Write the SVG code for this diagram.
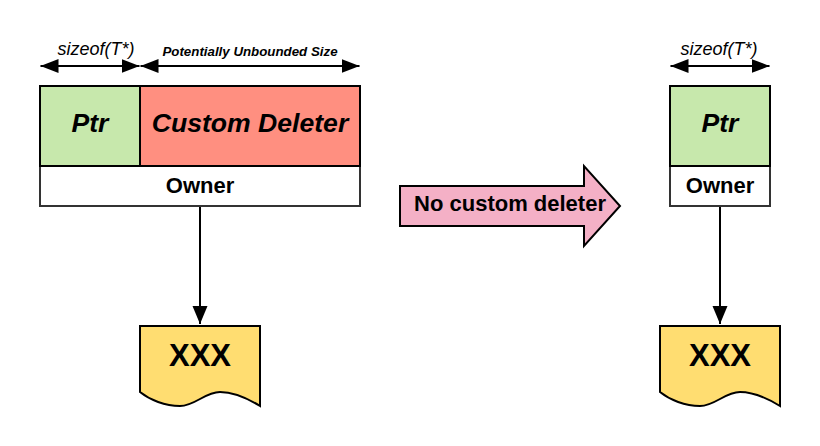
<svg xmlns="http://www.w3.org/2000/svg" width="820" height="446" viewBox="0 0 820 446">
<style>
text{font-family:"Liberation Sans",Arial,sans-serif;fill:#000;text-anchor:middle}
.box{stroke:#000;stroke-width:2}
.owner{fill:#fff;stroke:#333;stroke-width:2}
.ptr{fill:#c7e8ac}
.del{fill:#ff8f80}
.doc{fill:#ffdd71;stroke:#000;stroke-width:2}
.line{fill:none;stroke:#000;stroke-width:2}
.big{font-size:26.6px;font-weight:bold;font-style:italic}
.own{font-size:22px;font-weight:bold}
.sz{font-size:18px;font-style:italic}
.xxx{font-size:31px;font-weight:bold}
</style>
<defs>
<marker id="a" markerUnits="userSpaceOnUse" markerWidth="20" markerHeight="16" refX="18" refY="8" orient="auto-start-reverse"><path d="M0 1 L18 8 L0 15 Z" fill="#000"/></marker>
<marker id="b" markerUnits="userSpaceOnUse" markerWidth="16" markerHeight="20" refX="18" refY="6" orient="auto" overflow="visible"><path d="M0 -1.5 L18 6 L0 13.5 Z" fill="#000"/></marker>
</defs>
<g id="connectors">
<line class="line" x1="40.5" y1="66" x2="139.5" y2="66" marker-start="url(#a)" marker-end="url(#a)"/>
<line class="line" x1="140.5" y1="66" x2="359.5" y2="66" marker-start="url(#a)" marker-end="url(#a)"/>
<line class="line" x1="670.5" y1="66" x2="769.5" y2="66" marker-start="url(#a)" marker-end="url(#a)"/>
<line class="line" x1="200" y1="206" x2="200" y2="324" marker-end="url(#b)"/>
<line class="line" x1="720" y1="206" x2="720" y2="324" marker-end="url(#b)"/>
</g>
<g id="label-sizeof-left"><text class="sz" x="96" y="55">sizeof(T*)</text></g>
<g id="label-unbounded"><text x="250" y="56" font-size="13.3" font-weight="bold" font-style="italic">Potentially Unbounded Size</text></g>
<g id="label-sizeof-right"><text class="sz" x="719" y="55">sizeof(T*)</text></g>
<g id="owner-left"><rect class="owner" x="40" y="166" width="320" height="40"/><text class="own" x="200" y="193">Owner</text></g>
<g id="ptr-left"><rect class="box ptr" x="40" y="86" width="100" height="80"/><text class="big" x="90" y="132">Ptr</text></g>
<g id="deleter"><rect class="box del" x="140" y="86" width="220" height="80"/><text class="big" x="250" y="132">Custom Deleter</text></g>
<g id="transition"><path class="box" fill="#f4b0c6" d="M400 186H584V166L620 206L584 246V226H400Z"/><text class="own" x="510" y="211">No custom deleter</text></g>
<g id="owner-right"><rect class="owner" x="670" y="166" width="100" height="40"/><text class="own" x="720" y="193">Owner</text></g>
<g id="ptr-right"><rect class="box ptr" x="670" y="86" width="100" height="80"/><text class="big" x="720" y="132">Ptr</text></g>
<g id="doc-left"><path class="doc" d="M140 326H260V406C247 398 233 392 220 392C205 392 195 406 180 406C165 406 150 400 140 392Z"/><text class="xxx" x="200" y="366">XXX</text></g>
<g id="doc-right"><path class="doc" d="M660 326H780V406C767 398 753 392 740 392C725 392 715 406 700 406C685 406 670 400 660 392Z"/><text class="xxx" x="720" y="366">XXX</text></g>
</svg>
